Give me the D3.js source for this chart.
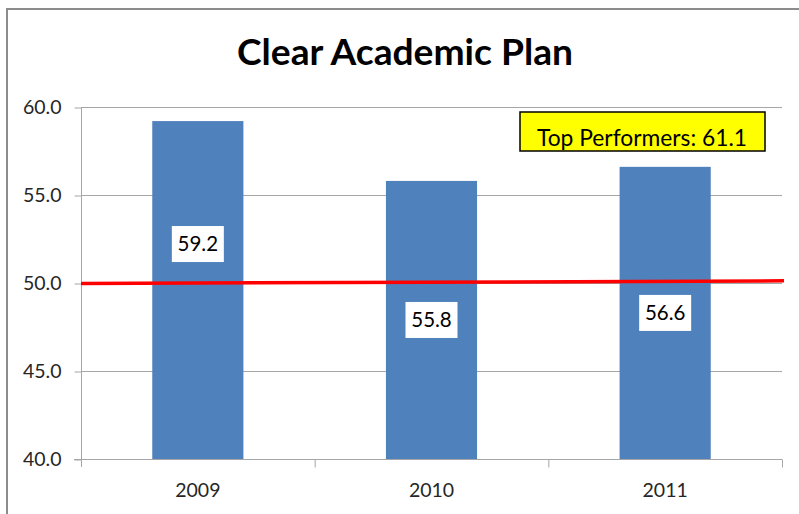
<!DOCTYPE html>
<html>
<head>
<meta charset="utf-8">
<script src="https://cdn.jsdelivr.net/npm/d3@7"></script>
<style>
  body { margin: 0; background: #fff; }
  text { font-family: Lato, "Open Sans", sans-serif; }
</style>
</head>
<body>
<div id="chart"></div>
<script>
// datos del grafico
const years = ['2009', '2010', '2011'];
const values = [59.2, 55.8, 56.6];
const yTicks = [40, 45, 50, 55, 60];
const targetLine = [50.0, 50.15]; // linea roja (ligeramente inclinada)
const topPerformers = 61.1;

const width = 799;
const height = 514;

const svg = d3.select('#chart')
  .append('svg')
  .attr('width', width)
  .attr('height', height);

// marco exterior
svg.append('rect')
  .attr('x', 7)
  .attr('y', 9)
  .attr('width', 820)
  .attr('height', 540)
  .attr('fill', '#fff')
  .attr('stroke', '#8c8c8c')
  .attr('stroke-width', 2);

// area de dibujo
const plotLeft = 81, plotRight = 782, plotTop = 107, plotBottom = 459;

const x = d3.scaleBand()
  .domain(years)
  .range([plotLeft, plotRight])
  .paddingInner(0.61)
  .paddingOuter(0.305);

const xCat = d3.scaleBand()
  .domain(years)
  .range([plotLeft, plotRight]);

const y = d3.scaleLinear()
  .domain([40, 60])
  .range([plotBottom, plotTop]);

// titulo (la fuente original es mas estrecha, se ajusta el ancho)
svg.append('text')
  .attr('x', 237)
  .attr('y', 65)
  .attr('font-size', 37)
  .attr('font-weight', 'bold')
  .attr('fill', '#000')
  .attr('textLength', 336)
  .attr('lengthAdjust', 'spacingAndGlyphs')
  .text('Clear Academic Plan');

// rejilla
svg.append('g')
  .selectAll('line')
  .data(yTicks.filter(d => d > 40))
  .enter()
  .append('line')
  .attr('x1', plotLeft)
  .attr('x2', plotRight)
  .attr('y1', d => y(d) + 0.5)
  .attr('y2', d => y(d) + 0.5)
  .attr('stroke', '#a6a6a6')
  .attr('stroke-width', 1);

// eje y
const yAxis = d3.axisLeft(y)
  .tickValues(yTicks)
  .tickFormat(d3.format('.1f'))
  .tickSize(7)
  .tickPadding(13);

const groupAxisY = svg.append('g')
  .attr('transform', `translate(${plotLeft + 0.5}, 0.5)`)
  .call(yAxis);
groupAxisY.select('.domain').remove();
groupAxisY.selectAll('line').attr('stroke', '#a6a6a6');
groupAxisY.selectAll('text')
  .attr('font-size', 19.5)
  .attr('fill', '#262626')
  .style('font-family', 'Lato, sans-serif');

svg.append('line')
  .attr('x1', plotLeft + 0.5)
  .attr('x2', plotLeft + 0.5)
  .attr('y1', plotTop)
  .attr('y2', plotBottom + 8)
  .attr('stroke', '#a6a6a6');

// barras
svg.selectAll('.bar')
  .data(values)
  .enter()
  .append('rect')
  .attr('class', 'bar')
  .attr('x', (d, i) => x(years[i]))
  .attr('width', x.bandwidth())
  .attr('y', d => y(d))
  .attr('height', d => y(40) - y(d))
  .attr('fill', '#4f81bd');

// eje x
const xAxis = d3.axisBottom(xCat).tickSize(0).tickPadding(24);
const groupAxisX = svg.append('g')
  .attr('transform', `translate(0, ${plotBottom + 0.5})`)
  .call(xAxis);
groupAxisX.select('.domain')
  .attr('d', `M${plotLeft - 7},0H${plotRight}`)
  .attr('stroke', '#a6a6a6');
groupAxisX.selectAll('text')
  .attr('font-size', 19.5)
  .attr('fill', '#262626')
  .style('font-family', 'Lato, sans-serif');

groupAxisX.selectAll('.sep')
  .data(years)
  .enter()
  .append('line')
  .attr('class', 'sep')
  .attr('x1', d => xCat(d) + xCat.bandwidth() + 0.5)
  .attr('x2', d => xCat(d) + xCat.bandwidth() + 0.5)
  .attr('y1', 0)
  .attr('y2', 8)
  .attr('stroke', '#a6a6a6');

// linea roja
svg.append('line')
  .attr('x1', plotLeft)
  .attr('x2', plotRight + 2)
  .attr('y1', y(targetLine[0]) + 0.5)
  .attr('y2', y(targetLine[1]) + 0.5)
  .attr('stroke', '#ff0000')
  .attr('stroke-width', 3.5);

// etiquetas de valor
const labels = svg.selectAll('.lbl')
  .data(values)
  .enter()
  .append('g')
  .attr('class', 'lbl')
  .attr('transform', (d, i) => {
    const cx = x(years[i]) + x.bandwidth() / 2;
    let cy = (y(d) + y(40)) / 2;
    if (i === 0) cy -= 46; // se sube para no tapar la linea roja
    return `translate(${cx}, ${cy})`;
  });

labels.append('rect')
  .attr('x', -26)
  .attr('y', -18)
  .attr('width', 52)
  .attr('height', 36)
  .attr('fill', '#fff');

labels.append('text')
  .attr('text-anchor', 'middle')
  .attr('dy', '0.36em')
  .attr('font-size', 20.5)
  .attr('fill', '#000')
  .text(d => d3.format('.1f')(d));

// caja top performers
const box = svg.append('g').attr('transform', 'translate(520, 112)');
box.append('rect')
  .attr('width', 245)
  .attr('height', 39)
  .attr('fill', '#ffff00')
  .attr('stroke', '#000')
  .attr('stroke-width', 1.5);
box.append('text')
  .attr('x', 17)
  .attr('y', 34)
  .attr('font-size', 24)
  .attr('fill', '#000')
  .attr('textLength', 210)
  .attr('lengthAdjust', 'spacingAndGlyphs')
  .text(`Top Performers: ${topPerformers}`);
</script>
</body>
</html>
